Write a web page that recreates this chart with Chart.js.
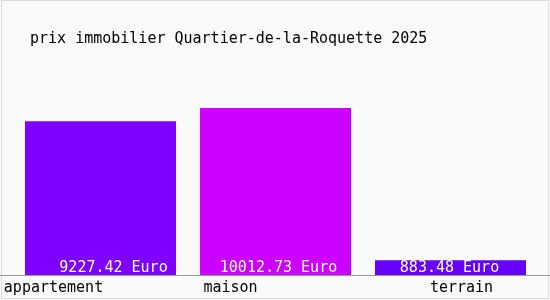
<!DOCTYPE html>
<html>
<head>
<meta charset="utf-8">
<script src="https://cdn.jsdelivr.net/npm/chart.js@4"></script>
<style>
  html, body { margin: 0; padding: 0; background: #fafafa; }
  #wrap { width: 550px; height: 300px; position: relative; }
</style>
</head>
<body>
<div id="wrap"><canvas id="prixChart" width="550" height="300"></canvas></div>
<script>
// data
const categories = ['appartement', 'maison', 'terrain'];
const prices = [9227.42, 10012.73, 883.48];
const barColors = ['#8000ff', '#cc00ff', '#6600ff'];
const titleText = 'prix immobilier Quartier-de-la-Roquette 2025';

// label placement tweaks (pixels relative to bar centre)
const labelShift = [-47, -45, 11];
const valueShift = [13, 3, -1];

const monoFont = '15px "DejaVu Sans Mono", monospace';

// background, frame, baseline and texts
const decor = {
  id: 'decor',
  beforeDraw(chart) {
    const ctx = chart.ctx;
    ctx.save();
    ctx.fillStyle = '#fafafa';
    ctx.fillRect(0, 0, chart.width, chart.height);
    ctx.strokeStyle = '#dddddd';
    ctx.lineWidth = 1;
    ctx.strokeRect(1.5, 0.5, chart.width - 3, chart.height - 2);
    ctx.restore();
  },
  afterDatasetsDraw(chart) {
    const ctx = chart.ctx;
    const xs = chart.scales.x;
    const ys = chart.scales.y;
    const base = ys.getPixelForValue(0);
    ctx.save();
    // baseline
    ctx.strokeStyle = '#999999';
    ctx.lineWidth = 1;
    ctx.beginPath();
    ctx.moveTo(0, Math.round(base) + 0.5);
    ctx.lineTo(chart.width, Math.round(base) + 0.5);
    ctx.stroke();

    ctx.font = monoFont;
    ctx.textBaseline = 'middle';
    // title
    ctx.fillStyle = '#000';
    ctx.textAlign = 'left';
    ctx.fillText(titleText, 30, 39);

    categories.forEach((c, i) => {
      const cx = xs.getPixelForValue(i);
      // values inside bars
      ctx.fillStyle = '#ffffff';
      ctx.textAlign = 'center';
      ctx.fillText(prices[i].toFixed(2) + ' Euro', cx + valueShift[i], base - 7);
      // category names under the baseline
      ctx.fillStyle = '#000';
      ctx.fillText(c, cx + labelShift[i], base + 13);
    });
    ctx.restore();
  }
};

new Chart(document.getElementById('prixChart'), {
  type: 'bar',
  data: {
    labels: categories,
    datasets: [{
      data: prices,
      backgroundColor: barColors,
      borderWidth: 0,
      barPercentage: 0.863,
      categoryPercentage: 1
    }]
  },
  options: {
    responsive: false,
    animation: false,
    layout: { padding: { left: 13, right: 12, top: 75, bottom: 25 } },
    plugins: {
      legend: { display: false },
      tooltip: { enabled: false },
      title: { display: false }
    },
    scales: {
      x: { display: false },
      y: { display: false, min: 0, max: 12000 }
    }
  },
  plugins: [decor]
});
</script>
</body>
</html>
